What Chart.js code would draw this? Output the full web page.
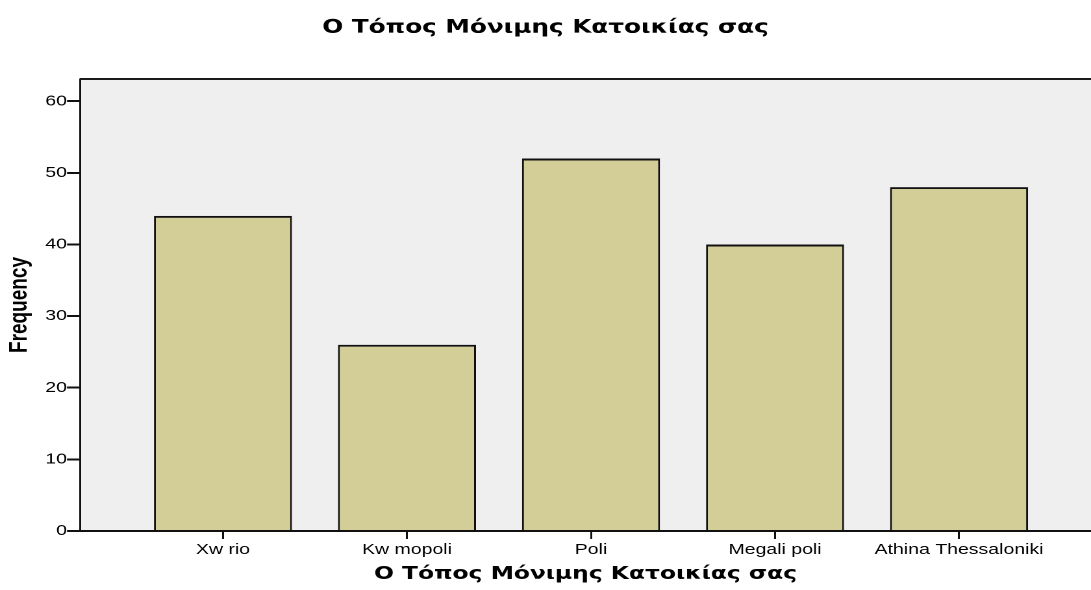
<!DOCTYPE html>
<html>
<head>
<meta charset="utf-8">
<script src="https://cdn.jsdelivr.net/npm/chart.js@4"></script>
<style>
  html, body { margin: 0; padding: 0; background: #fff; overflow: hidden; }
  #wrap { width: 1091px; height: 590px; }
  /* the original export is stretched sideways, so stretch the canvas the same way */
  #myChart { transform: scaleX(1.2988); transform-origin: 0 0; }
</style>
</head>
<body>
<div id="wrap"><canvas id="myChart" width="840" height="590"></canvas></div>
<script>
const categories = ["Xw rio", "Kw mopoli", "Poli", "Megali poli", "Athina Thessaloniki"];
const frequencies = [44, 26, 52, 40, 48];
const yTicks = [0, 10, 20, 30, 40, 50, 60];
const titleText = "Ο Τόπος Μόνιμης Κατοικίας σας";

// grey plot background + top frame line
const plotFrame = {
  id: "plotFrame",
  beforeDraw: (chart) => {
    const { ctx, chartArea: a } = chart;
    ctx.save();
    ctx.fillStyle = "#efefef";
    ctx.fillRect(a.left, a.top, a.right - a.left, a.bottom - a.top);
    ctx.restore();
  },
  afterDraw: (chart) => {
    const { ctx, chartArea: a } = chart;
    ctx.save();
    ctx.strokeStyle = "#1a1a1a";
    ctx.lineWidth = 2;
    ctx.beginPath();
    ctx.moveTo(a.left, a.top);
    ctx.lineTo(a.right, a.top);
    ctx.stroke();
    ctx.restore();
  },
};

const chartIt = () => {
  const ctx = document.getElementById("myChart").getContext("2d");
  Chart.defaults.font.family = "'Liberation Sans', Arial, sans-serif";
  Chart.defaults.color = "#000";
  new Chart(ctx, {
    type: "bar",
    data: {
      datasets: [
        {
          data: frequencies.map((v, i) => ({ x: i + 1, y: v })),
          backgroundColor: "#d3ce97",
          borderColor: "#111",
          borderWidth: { top: 2, left: 1.5, right: 1.5, bottom: 0 },
          borderSkipped: "bottom",
          categoryPercentage: 1,
          barPercentage: 0.75,
        },
      ],
    },
    options: {
      responsive: false,
      animation: false,
      devicePixelRatio: 2,
      plugins: {
        legend: { display: false },
        tooltip: { enabled: false },
        title: {
          display: true,
          text: titleText,
          font: { family: "'DejaVu Sans', Verdana, sans-serif", size: 19, weight: "bold" },
          color: "#000",
          padding: { top: 16, bottom: 40.2 },
        },
      },
      scales: {
        x: {
          type: "linear",
          min: 0.223,
          max: 5.717,
          offset: false,
          afterBuildTicks: (scale) => {
            scale.ticks = categories.map((_, i) => ({ value: i + 1 }));
          },
          afterFit: (scale) => {
            scale.height = 59;
          },
          ticks: {
            autoSkip: false,
            maxRotation: 0,
            padding: 2,
            font: { size: 15 },
            callback: (value) => categories[value - 1],
          },
          grid: { offset: false, drawOnChartArea: false, tickLength: 8, color: "#111", lineWidth: 1.5 },
          border: { color: "#111", width: 2 },
          title: {
            display: true,
            text: titleText,
            font: { family: "'DejaVu Sans', Verdana, sans-serif", size: 18, weight: "bold" },
            padding: { top: 0, bottom: 5 },
          },
        },
        y: {
          min: 0,
          max: 63.1,
          afterBuildTicks: (scale) => {
            scale.ticks = yTicks.map((v) => ({ value: v }));
          },
          afterFit: (scale) => {
            scale.width = 61.6;
          },
          ticks: { padding: 0, font: { size: 15 } },
          grid: { drawOnChartArea: false, tickLength: 10, color: "#111", lineWidth: 2 },
          border: { color: "#111", width: 1.5 },
          title: {
            display: true,
            text: "Frequency",
            font: { size: 19, weight: "bold" },
            padding: { top: 4, bottom: 0 },
          },
        },
      },
    },
    plugins: [plotFrame],
  });
};

chartIt();
</script>
</body>
</html>
